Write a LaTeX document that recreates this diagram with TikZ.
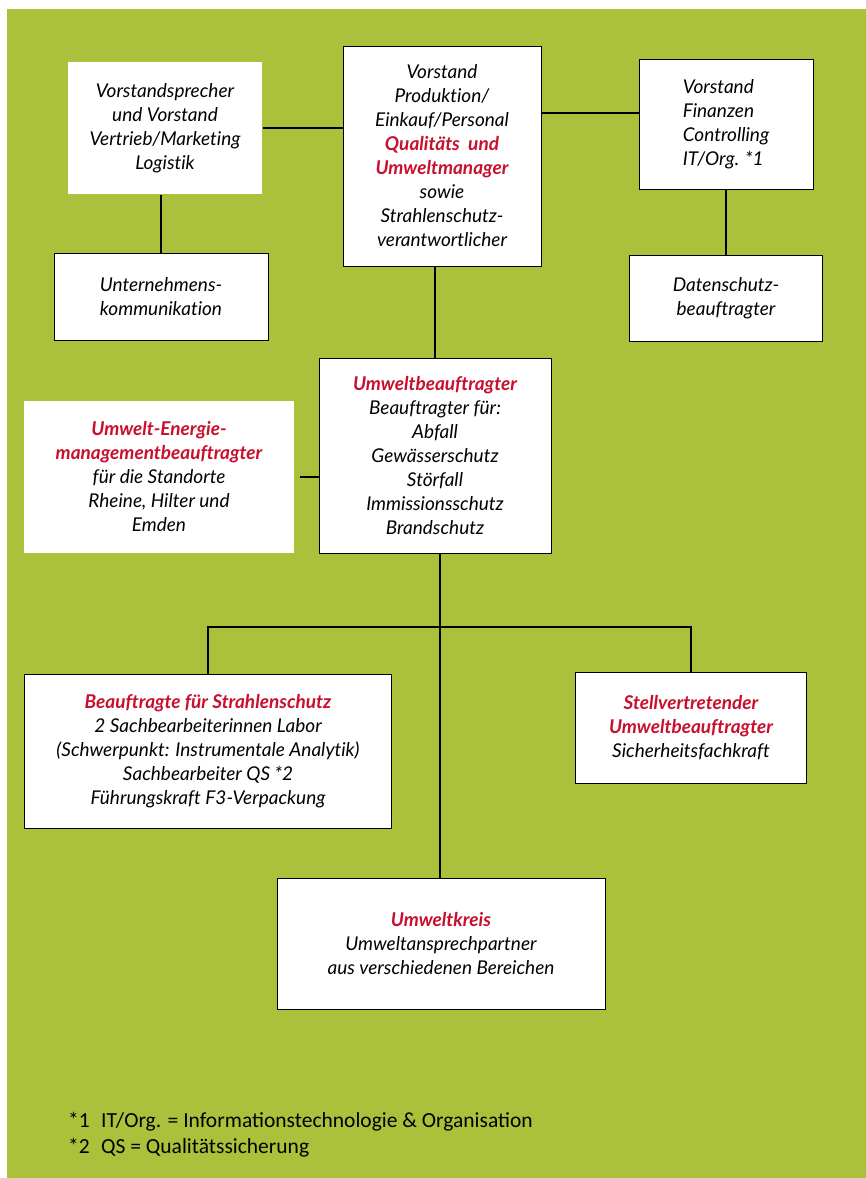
\documentclass[tikz,border=0pt]{standalone}
\usepackage{fontspec}
\setmainfont[Ligatures=NoCommon]{Lato}
\newfontfamily\fussfont{Carlito}
\usetikzlibrary{calc}
\definecolor{umweltgruen}{RGB}{171,193,59}
\definecolor{umweltrot}{RGB}{200,16,46}
\newcommand{\rot}[1]{{\bfseries\color{umweltrot}#1}}

\begin{document}
\begin{tikzpicture}[x=1pt, y=-1pt,
  box/.style={draw, line width=1pt, fill=white, align=center, inner sep=0pt,
    font=\itshape\fontsize{19}{24}\selectfont},
  plain/.style={box, draw=none},
  conn/.style={line width=1.6pt}]
  \useasboundingbox (0,0) rectangle (866,1178);
  \fill[umweltgruen] (7,9) rectangle (866,1178);

  % Vorstand
  \node[plain, minimum width=194pt, minimum height=132pt] (vsv) at (165,128)
    {Vorstandsprecher\\und Vorstand\\Vertrieb/Marketing\\Logistik};
  \node[box, minimum width=198pt, minimum height=220pt] (vpe) at (442,156)
    {Vorstand\\Produktion/\\Einkauf/Personal\\\rot{Qualitäts~ und}\\\rot{Umweltmanager}\\sowie\\Strahlenschutz-\\verantwortlicher};
  \node[box, minimum width=174pt, minimum height=130pt, align=left] (vfi) at (726,124)
    {Vorstand\\Finanzen\\Controlling\\IT/Org. *1};
  \node[box, minimum width=214pt, minimum height=87pt] (ukom) at (161,297)
    {Unternehmens-\\kommunikation};
  \node[box, minimum width=193pt, minimum height=86pt] (dsb) at (726,298)
    {Datenschutz-\\beauftragter};

  % Beauftragte
  \node[box, minimum width=232pt, minimum height=195pt] (ub) at (435,456)
    {\rot{Umweltbeauftragter}\\Beauftragter für:\\Abfall\\Gewässerschutz\\Störfall\\Immissionsschutz\\Brandschutz};
  \node[plain, minimum width=270pt, minimum height=152pt] (uem) at (159,477)
    {\rot{Umwelt-Energie-}\\\rot{managementbeauftragter}\\für die Standorte\\Rheine, Hilter und\\Emden};
  \node[box, minimum width=367pt, minimum height=154pt] (bfs) at (208,751)
    {\rot{Beauftragte für Strahlenschutz}\\2 Sachbearbeiterinnen Labor\\(Schwerpunkt: Instrumentale Analytik)\\Sachbearbeiter QS *2\\Führungskraft F3-Verpackung};
  \node[box, minimum width=231pt, minimum height=111pt] (suv) at (691,728)
    {\rot{Stellvertretender}\\\rot{Umweltbeauftragter}\\Sicherheitsfachkraft};
  \node[box, minimum width=328pt, minimum height=131pt] (uk) at (441,944)
    {\rot{Umweltkreis}\\Umweltansprechpartner\\aus verschiedenen Bereichen};

  \coordinate (fork) at (440,627);

  \path[conn]
    (vsv.east) edge (vsv.east -| vpe.west)
    ([yshift=11pt]vfi.west) edge ([yshift=11pt]vfi.west -| vpe.east)
    (vsv.south -| ukom) edge (ukom)
    (vfi) edge (dsb)
    (vpe.south -| ub) edge (ub)
    (uem.east) edge[shorten <=5pt] (uem.east -| ub.west)
    (ub.south -| fork) edge (uk.north -| fork);
  \draw[conn] (bfs.north) |- (fork) -| (suv.north);

  % Fussnoten
  \node[anchor=base west, align=left, inner sep=0pt,
    font=\fussfont\fontsize{21.5}{26}\selectfont] (fuss) at (68,1153)
    {\makebox[33pt][l]{*1}IT/Org. = Informationstechnologie \& Organisation\\
     \makebox[33pt][l]{*2}QS = Qualitätssicherung};
\end{tikzpicture}
\end{document}
